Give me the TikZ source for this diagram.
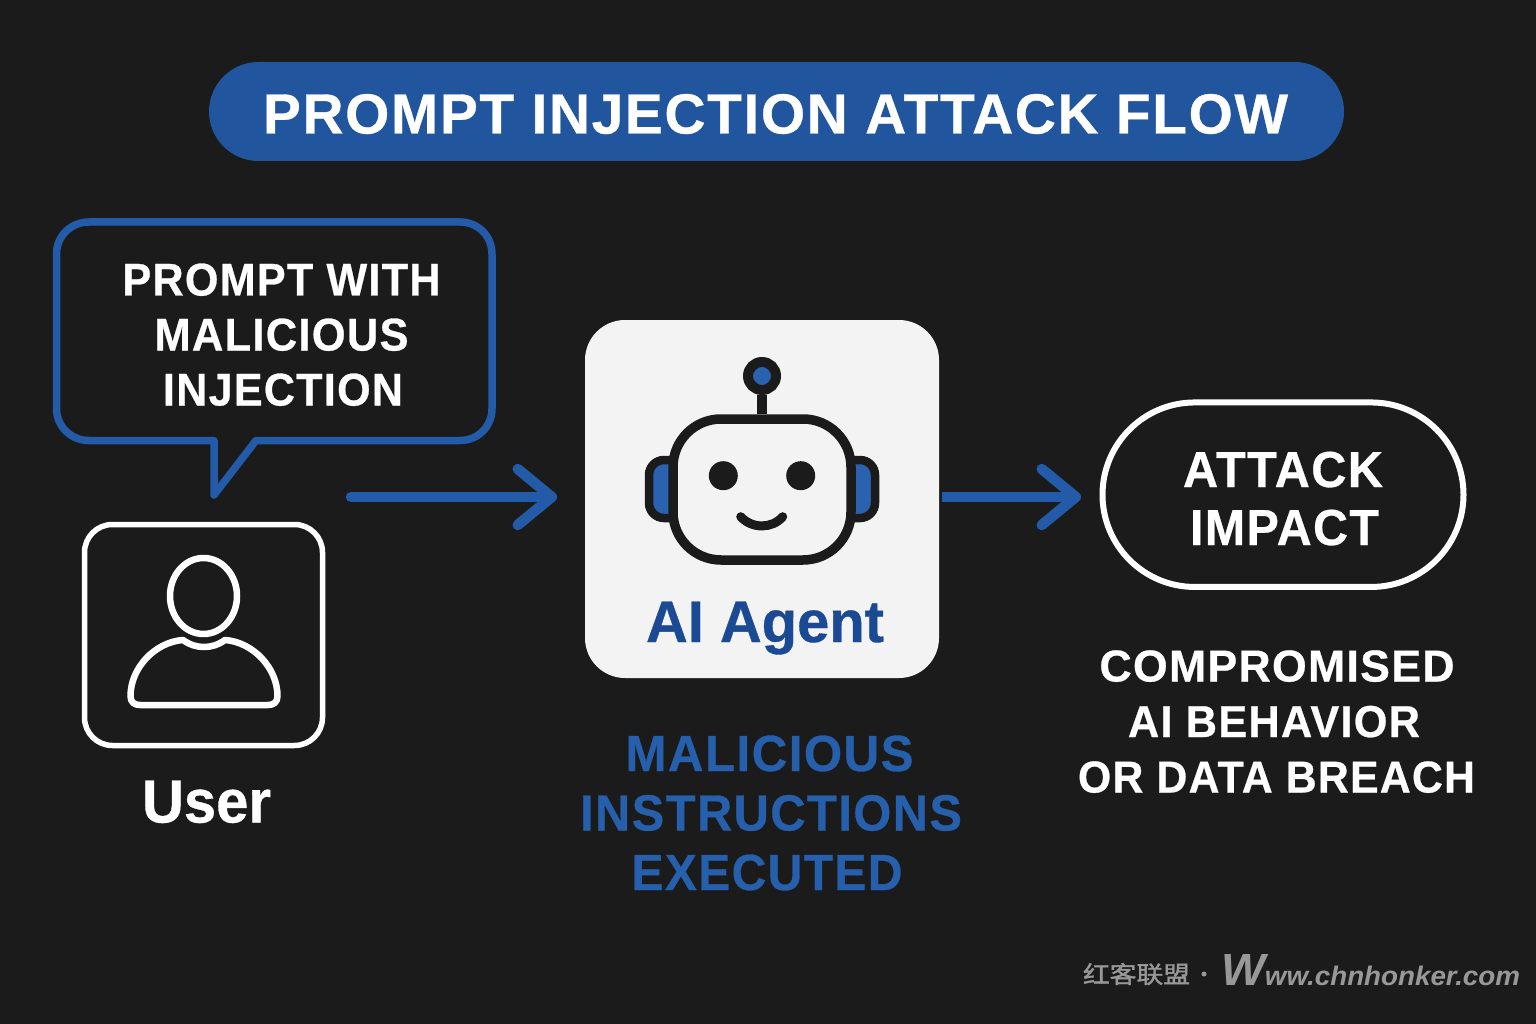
\documentclass[tikz,border=0pt]{standalone}
\usepackage{graphicx}
\usepackage{fontspec}
\setmainfont[BoldFeatures={FakeBold=0.6}]{Liberation Sans}
\newfontfamily\spaced[LetterSpace=3,BoldFeatures={FakeBold=0.6}]{Liberation Sans}
\newfontfamily\cjkwm[FakeBold=1.5]{Noto Sans CJK SC}
\usetikzlibrary{arrows.meta,shapes.misc}
\definecolor{bg}{HTML}{1B1B1B}
\definecolor{pillblue}{HTML}{21559E}
\definecolor{lineblue}{HTML}{235BA8}
\definecolor{textblue}{HTML}{2660AD}
\definecolor{navy}{HTML}{1B4A94}
\definecolor{iconblue}{HTML}{2A62B0}
\definecolor{paper}{HTML}{F3F3F4}
\definecolor{wm}{HTML}{989898}
\newcommand{\fitcaps}[3]{\resizebox{#1pt}{#2pt}{\fontsize{50}{50}\selectfont\spaced\bfseries #3}}
\newcommand{\fitplain}[3]{\resizebox{#1pt}{#2pt}{\fontsize{50}{50}\selectfont\bfseries #3}}
\tikzset{
  x=1pt,y=-1pt,
  txt/.style={inner sep=0pt,outer sep=0pt,anchor=base,text=white},
  bluetxt/.style={txt,text=textblue},
  flow/.style={draw=lineblue,line width=10.5pt,line cap=round,line join=round,
    -{Straight Barb[length=34pt,width=56pt,line width=10.5pt,round]}},
  outline/.style={draw=white,line width=6.5pt,line join=round},
  inkfill/.style={draw=bg,line width=8.5pt,fill=iconblue,rounded corners=15pt},
}
\begin{document}
\begin{tikzpicture}
\useasboundingbox (0,0) rectangle (1536,1024);
\fill[bg] (0,0) rectangle (1536,1024);

% title
\node[fill=pillblue,rounded rectangle,minimum width=1135pt,minimum height=99pt,inner sep=0pt] (titlepill) at (776.5,111.5) {};
\node[txt] (title) at (775.5,133.5) {\fitcaps{1025}{39.5}{PROMPT INJECTION ATTACK FLOW}};

% speech bubble
\draw[lineblue,line width=7.5pt,line join=round]
  (89,222) -- (460,222)
  .. controls (478,222) and (492,236) .. (492,254)
  -- (492,408.5)
  .. controls (492,426.5) and (478,440.5) .. (460,440.5)
  -- (256,440.5) -- (214,495) -- (214,440.5) -- (89,440.5)
  .. controls (71,440.5) and (56.5,426.5) .. (56.5,408.5)
  -- (56.5,254)
  .. controls (56.5,236) and (71,222) .. (89,222) -- cycle;
\node[txt] (b1) at (281.5,295.5) {\fitcaps{318}{32}{PROMPT WITH}};
\node[txt] (b2) at (281.5,350.5) {\fitcaps{254}{32}{MALICIOUS}};
\node[txt] (b3) at (283,405.5) {\fitcaps{240}{32}{INJECTION}};

% user
\node[draw=white,line width=5.5pt,rounded corners=28pt,minimum width=238pt,minimum height=221pt,inner sep=0pt] (userbox) at (203.5,635) {};
\draw[outline] (203.5,596) ellipse[x radius=33.5pt,y radius=38pt];
\draw[outline] (140,705) -- (268,705)
  .. controls (274,705) and (277.5,702) .. (277.5,696)
  .. controls (277.5,668) and (253,642) .. (225,640)
  .. controls (218,645) and (211,647) .. (204,647)
  .. controls (197,647) and (190,645) .. (183,640)
  .. controls (155,642) and (130.5,668) .. (130.5,696)
  .. controls (130.5,702) and (134,705) .. (140,705) -- cycle;
\node[txt] (user) at (206.5,822.5) {\fitplain{129}{42}{User}};

% agent
\node[fill=paper,rounded corners=40pt,minimum width=354pt,minimum height=358pt,inner sep=0pt] (agent) at (762,499) {};
\draw[inkfill] (675,460) -- (649,460) -- (649,518) -- (675,518);
\draw[inkfill] (849,460) -- (875,460) -- (875,518) -- (849,518);
\node[draw=bg,line width=9.5pt,fill=paper,rounded corners=48pt,minimum width=178pt,minimum height=141pt,inner sep=0pt] (robot) at (762,489.5) {};
\node[circle,draw=bg,line width=10pt,fill=iconblue,minimum size=28pt,inner sep=0pt] (antenna) at (762,376) {};
\draw[bg,line width=9.5pt] (antenna) -- (robot);
\fill[bg] (723.3,475.7) circle[radius=14.5pt];
\fill[bg] (800.7,475.7) circle[radius=14.5pt];
\draw[bg,line width=9pt,line cap=round] (740.7,516.7) .. controls (752,529) and (772,529) .. (782.7,516.7);
\node[txt,text=navy] (agentlabel) at (765,642) {\fitplain{238}{40.5}{AI Agent}};

\node[bluetxt] (m1) at (769.5,771) {\fitcaps{288}{35.5}{MALICIOUS}};
\node[bluetxt] (m2) at (771,830.5) {\fitcaps{382}{35.5}{INSTRUCTIONS}};
\node[bluetxt] (m3) at (767,890) {\fitcaps{271}{35.5}{EXECUTED}};

% impact
\node[draw=white,line width=6pt,rounded rectangle,minimum width=361pt,minimum height=184.5pt,inner sep=0pt] (impact) at (1283,494.7) {};
\node[txt] (i1) at (1283,487) {\fitcaps{200}{35.3}{ATTACK}};
\node[txt] (i2) at (1284.5,545) {\fitcaps{189}{35.3}{IMPACT}};
\node[txt] (c1) at (1277,681.5) {\fitcaps{355}{31.2}{COMPROMISED}};
\node[txt] (c2) at (1274,737) {\fitcaps{292}{31.2}{AI BEHAVIOR}};
\node[txt] (c3) at (1276.5,792.5) {\fitcaps{397}{31.2}{OR DATA BREACH}};

% connectors
\coordinate (a1s) at (351,497);
\coordinate (a1e) at (557,497);
\coordinate (a2s) at (942,497);
\coordinate (a2e) at (1081,497);
\draw[flow] (a1s) -- (a1e);
\draw[flow,line cap=butt] (a2s) -- (a2e);

% watermark
\node[txt,text=wm] (wm1) at (1136.5,983) {\resizebox{107pt}{20pt}{\cjkwm 红客联盟}};
\fill[wm] (1204,974) circle[radius=2.5pt];
\node[txt,text=wm] (wm2) at (1370.5,985) {\resizebox{299pt}{31pt}{\bfseries\itshape\fontsize{47}{47}\selectfont W\fontsize{28}{28}\selectfont ww.chnhonker.com}};
\end{tikzpicture}
\end{document}
